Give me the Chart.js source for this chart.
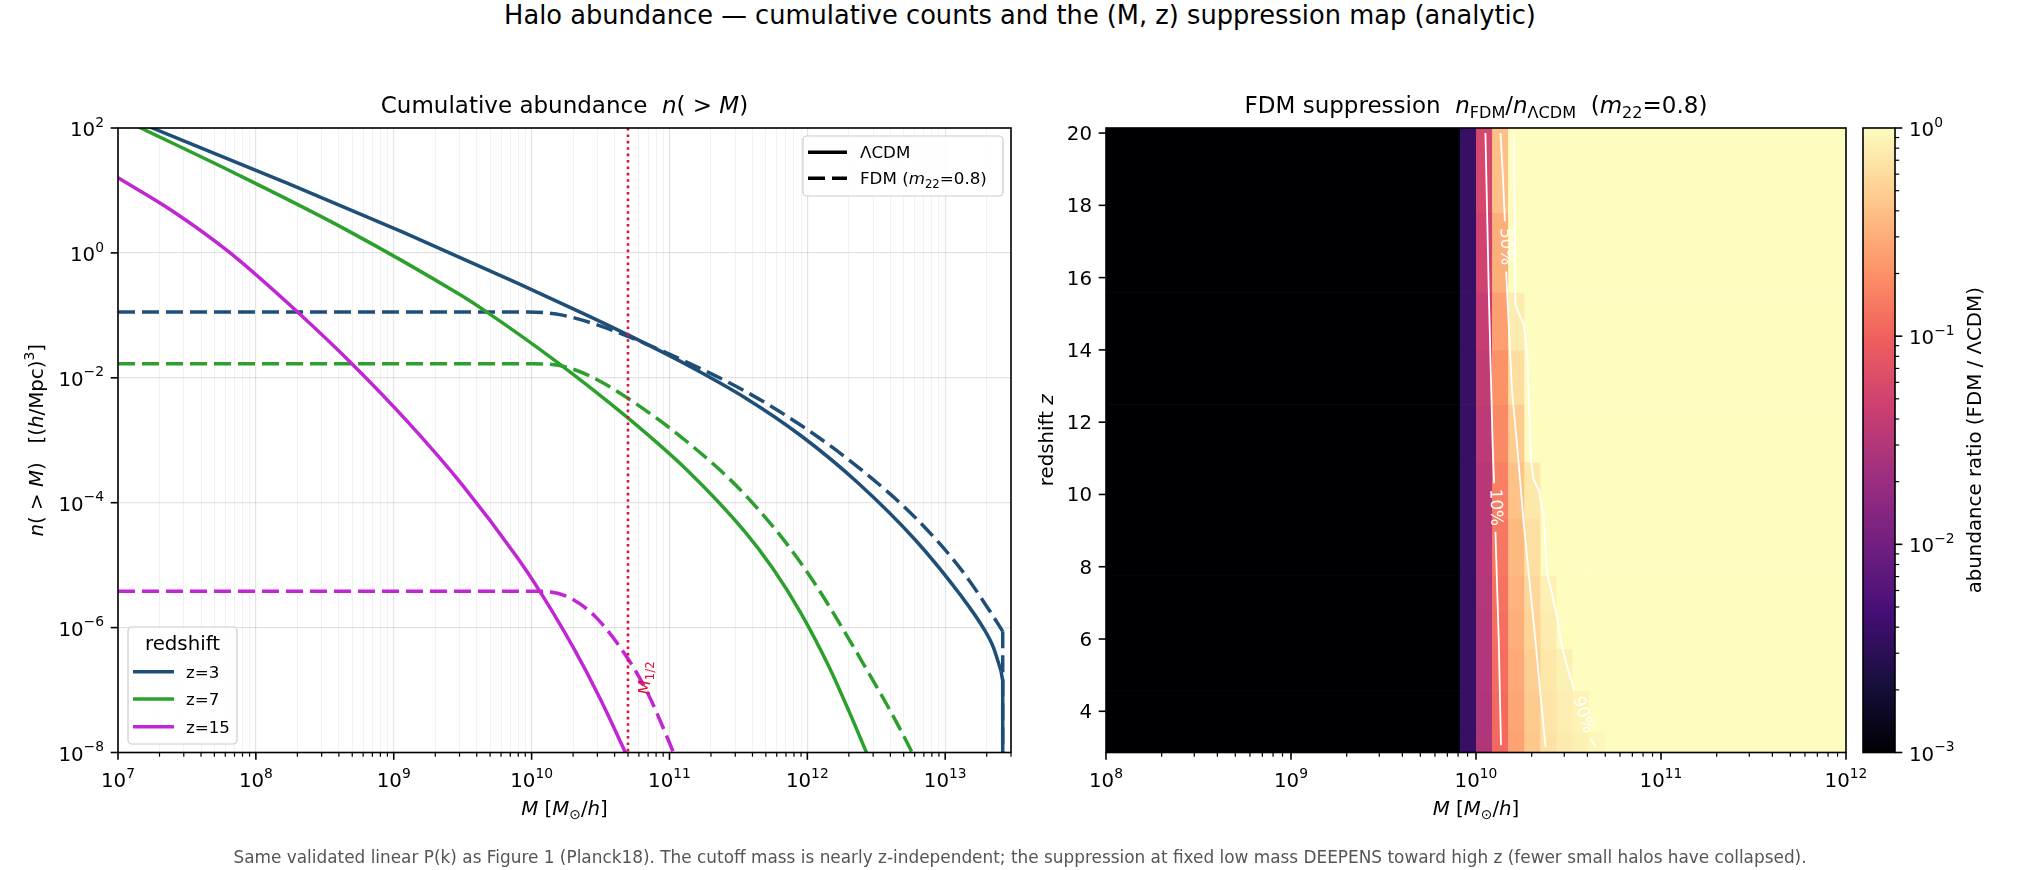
<!DOCTYPE html>
<html lang="en">
<head>
<meta charset="UTF-8">
<title>Halo abundance — cumulative counts and the (M, z) suppression map</title>
<script src="https://cdn.jsdelivr.net/npm/chart.js@4.4.1/dist/chart.umd.min.js"></script>
<style>
    body { margin: 0; background: #fff; }
    #page { position: relative; width: 2040px; height: 870px; font-family: "DejaVu Sans", sans-serif; color: #000; }
    canvas { position: absolute; left: 0; top: 0; }
    #suptitle { position: absolute; left: 0; top: 0; width: 2040px; text-align: center; font-size: 25.7px; line-height: 30px; }
    #footnote { position: absolute; left: 0; top: 847px; width: 2040px; text-align: center; font-size: 16.9px; line-height: 20px; color: #555; }
</style>
</head>
<body>
<div id="page">
    <div id="suptitle">Halo abundance — cumulative counts and the (M, z) suppression map (analytic)</div>
    <canvas id="cLeft" width="2040" height="870"></canvas>
    <canvas id="cRight" width="2040" height="870"></canvas>
    <canvas id="cBar" width="2040" height="870"></canvas>
    <div id="footnote">Same validated linear P(k) as Figure 1 (Planck18). The cutoff mass is nearly z-independent; the suppression at fixed low mass DEEPENS toward high z (fewer small halos have collapsed).</div>
</div>

<script>
// ---- data (log10 values) ----
const cdmZ3LogM = [7.0, 7.248, 8.24, 9.066, 9.893, 10.388, 10.694, 11.132, 11.545, 11.959, 12.372, 12.785, 13.116, 13.281, 13.35, 13.405];
const cdmZ3LogN = [2.223, 2.0, 1.107, 0.331, -0.479, -0.984, -1.308, -1.799, -2.315, -2.936, -3.692, -4.601, -5.495, -6.023, -6.32, -6.70];
const fdmZ3LogM = [7.0, 9.975, 10.223, 10.43, 10.694, 11.132, 11.545, 11.959, 12.372, 12.785, 13.116, 13.322, 13.417];
const fdmZ3LogN = [-0.946, -0.946, -0.996, -1.12, -1.331, -1.756, -2.21, -2.769, -3.438, -4.243, -5.071, -5.73, -6.06];
// the z=3 curves fall vertically at the upper end of the mass range
const cdmZ3DropLogM = [13.405, 13.417, 13.417];
const cdmZ3DropLogN = [-6.70, -6.85, -9.0];
const fdmZ3DropLogM = [13.417, 13.417];
const fdmZ3DropLogN = [-6.06, -9.0];

const cdmZ7LogM = [7.0, 7.165, 7.826, 8.653, 9.479, 9.665, 10.182, 10.694, 11.132, 11.545, 11.75, 11.95, 12.15, 12.3, 12.434, 12.5];
const cdmZ7LogN = [2.175, 2.0, 1.299, 0.373, -0.668, -0.932, -1.744, -2.635, -3.489, -4.46, -5.055, -5.755, -6.595, -7.33, -8.027, -8.37];
const fdmZ7LogM = [7.0, 10.017, 10.223, 10.43, 10.694, 11.132, 11.545, 11.959, 12.372, 12.764, 12.8];
const fdmZ7LogN = [-1.776, -1.776, -1.813, -1.979, -2.322, -3.032, -3.866, -4.984, -6.45, -8.02, -8.2];

const cdmZ15LogM = [7.0, 7.4, 7.8, 8.3, 8.7, 9.1, 9.5, 9.9, 10.06, 10.3, 10.5, 10.68, 10.72];
const cdmZ15LogN = [1.203, 0.663, 0.023, -0.942, -1.782, -2.702, -3.722, -4.89, -5.42, -6.31, -7.15, -8.0, -8.2];
const fdmZ15LogM = [7.0, 10.0, 10.14, 10.306, 10.471, 10.694, 10.843, 11.029, 11.06];
const fdmZ15LogN = [-5.417, -5.417, -5.43, -5.557, -5.844, -6.482, -7.056, -8.0, -8.17];

const mHalf = 5e10;

// suppression map: cell edges and ratio per cell (rows = z, bottom to top)
const zEdges = [2.86, 3.43, 4.58, 5.74, 6.76, 7.77, 9.33, 10.9, 12.5, 14.0, 15.6, 17.8, 20.14];
const logMEdges = [8.0, 9.913, 10.0, 10.087, 10.174, 10.261, 10.348, 10.435, 10.522, 10.609, 10.696, 12.0];
const ratioGrid = [
    [0.001, 0.0037, 0.029, 0.112, 0.26, 0.45, 0.67, 0.76, 0.83, 0.90, 1],
    [0.001, 0.0037, 0.029, 0.115, 0.27, 0.47, 0.69, 0.79, 0.86, 1, 1],
    [0.001, 0.0037, 0.030, 0.120, 0.29, 0.50, 0.73, 0.84, 1, 1, 1],
    [0.001, 0.0037, 0.030, 0.124, 0.31, 0.54, 0.77, 1, 1, 1, 1],
    [0.001, 0.0037, 0.031, 0.128, 0.33, 0.57, 0.82, 1, 1, 1, 1],
    [0.001, 0.0037, 0.032, 0.138, 0.36, 0.64, 1, 1, 1, 1, 1],
    [0.001, 0.0037, 0.033, 0.155, 0.41, 0.73, 1, 1, 1, 1, 1],
    [0.001, 0.0037, 0.035, 0.180, 0.48, 1, 1, 1, 1, 1, 1],
    [0.001, 0.0037, 0.039, 0.205, 0.62, 1, 1, 1, 1, 1, 1],
    [0.001, 0.0037, 0.043, 0.245, 0.78, 1, 1, 1, 1, 1, 1],
    [0.001, 0.0037, 0.049, 0.310, 1, 1, 1, 1, 1, 1, 1],
    [0.001, 0.0037, 0.055, 0.400, 1, 1, 1, 1, 1, 1, 1]
];

// contour lines (null = gap for the inline label)
const c10LogM = [10.051, 10.069, 10.090, 10.098, null, 10.105, 10.123, 10.135];
const c10Z = [20.0, 15.62, 11.37, 10.31, null, 8.97, 5.97, 3.06];
const c50LogM = [10.132, 10.145, 10.156, null, 10.163, 10.177, 10.195, 10.222, 10.258, 10.294, 10.321, 10.348, 10.376];
const c50Z = [20.0, 18.85, 17.56, null, 16.17, 14.69, 12.85, 11.37, 9.2, 7.35, 5.97, 4.49, 3.01];
const c90LogM = [10.204, 10.21, 10.213, 10.231, 10.258, 10.276, 10.285, 10.294, 10.297, 10.312, 10.339, 10.366, 10.384, 10.411, 10.438, 10.465, 10.493, 10.532, null, 10.619, 10.646];
const c90Z = [20.0, 17.46, 15.25, 15.02, 14.69, 13.95, 12.85, 11.37, 10.95, 10.4, 10.12, 9.38, 7.81, 7.26, 6.61, 5.78, 5.23, 4.58, null, 3.24, 3.01];
const contourLabels = [
    { text: '10%', logM: 10.104, z: 9.64, angle: 88 },
    { text: '50%', logM: 10.160, z: 16.86, angle: 88 },
    { text: '90%', logM: 10.577, z: 3.9, angle: 72 }
];

// ticks
const leftXMajor = [1e7, 1e8, 1e9, 1e10, 1e11, 1e12, 1e13];
const leftYMajor = [1e2, 1e0, 1e-2, 1e-4, 1e-6, 1e-8];
const rightXMajor = [1e8, 1e9, 1e10, 1e11, 1e12];
const rightYTicks = [4, 6, 8, 10, 12, 14, 16, 18, 20];
const cbMajor = [1e-3, 1e-2, 1e-1, 1e0];
const cbRange = [1e-3, 1];

// ---- layout ----
const W = 2040, H = 870;
const leftArea = { left: 118, top: 128, right: 1011, bottom: 752.5 };
const rightArea = { left: 1106, top: 128, right: 1846, bottom: 752.5 };
const cbArea = { left: 1863, top: 128, right: 1895, bottom: 752.5 };

const FONT = '"DejaVu Sans", sans-serif';
const C3 = '#1f4e79', C7 = '#2ca02c', C15 = '#c026d3', RED = '#dc143c';
const magmaHex = ['#000004', '#180f3d', '#440f76', '#721f81', '#9e2f7f', '#cd4071', '#f1605d', '#fd9668', '#feca8d', '#fcfdbf'];

function areaLayout(a) {
    return { padding: { left: a.left, top: a.top, right: W - a.right, bottom: H - a.bottom } };
}
function zeroFit(s) { if (s.isHorizontal()) s.height = 0; else s.width = 0; }
function isPow10(v) { const l = Math.log10(v); return Math.abs(l - Math.round(l)) < 1e-9; }
function minorLog(majors, maxV) {
    const out = [];
    majors.forEach(d => { for (let m = 1; m <= 9; m++) { const v = m * d; if (v <= maxV * 1.0001) out.push(v); } });
    return out;
}

function hexRgb(h) { return [1, 3, 5].map(i => parseInt(h.substr(i, 2), 16)); }
const magmaRgb = magmaHex.map(hexRgb);
function magma(t) {
    t = Math.max(0, Math.min(1, t));
    const f = t * (magmaRgb.length - 1);
    const i = Math.min(magmaRgb.length - 2, Math.floor(f));
    const u = f - i;
    const c = magmaRgb[i].map((v, k) => Math.round(v + (magmaRgb[i + 1][k] - v) * u));
    return 'rgb(' + c.join(',') + ')';
}
function ratioColor(v) { return magma((Math.log10(Math.max(v, 1e-3)) + 3) / 3); }

// ---- text helpers (mathtext-like runs) ----
function partFont(p, size) {
    const s = (p.sub || p.sup) ? size * 0.7 : size;
    return (p.it ? 'italic ' : '') + s.toFixed(2) + 'px ' + FONT;
}
function drawRich(ctx, parts, x, y, size, opts = {}) {
    ctx.save();
    ctx.translate(x, y);
    if (opts.rotate) ctx.rotate(opts.rotate);
    ctx.fillStyle = opts.color || '#000';
    ctx.textAlign = 'left';
    ctx.textBaseline = 'alphabetic';
    let w = 0;
    parts.forEach(p => { ctx.font = partFont(p, size); w += ctx.measureText(p.t).width; });
    let cx = opts.align === 'center' ? -w / 2 : opts.align === 'right' ? -w : 0;
    parts.forEach(p => {
        ctx.font = partFont(p, size);
        const dy = p.sub ? size * 0.22 : p.sup ? -size * 0.47 : 0;
        ctx.fillText(p.t, cx, dy);
        cx += ctx.measureText(p.t).width;
    });
    ctx.restore();
}
function pow10Parts(v) {
    const e = Math.round(Math.log10(v));
    return [{ t: '10' }, { t: e < 0 ? '\u2212' + (-e) : String(e), sup: true }];
}
function frame(ctx, a) {
    ctx.save();
    ctx.strokeStyle = '#000';
    ctx.lineWidth = 1.6;
    ctx.strokeRect(a.left, a.top, a.right - a.left, a.bottom - a.top);
    ctx.restore();
}
function tick(ctx, x0, y0, x1, y1, w) {
    ctx.save();
    ctx.strokeStyle = '#000';
    ctx.lineWidth = w;
    ctx.beginPath(); ctx.moveTo(x0, y0); ctx.lineTo(x1, y1); ctx.stroke();
    ctx.restore();
}
function legendBox(ctx, x, y, w, h) {
    ctx.save();
    ctx.beginPath();
    ctx.roundRect(x, y, w, h, 4);
    ctx.fillStyle = 'rgba(255,255,255,0.8)';
    ctx.fill();
    ctx.strokeStyle = '#cccccc';
    ctx.lineWidth = 1.2;
    ctx.stroke();
    ctx.restore();
}
function legendLine(ctx, x0, x1, y, color, dash) {
    ctx.save();
    ctx.strokeStyle = color;
    ctx.lineWidth = 3.5;
    ctx.setLineDash(dash || []);
    ctx.beginPath(); ctx.moveTo(x0, y); ctx.lineTo(x1, y); ctx.stroke();
    ctx.restore();
}

const TICK = 19.8, LABEL = 19.8, TITLE = 23, SMALL = 16.7;
const massLabel = [{ t: 'M', it: true }, { t: ' [' }, { t: 'M', it: true }, { t: '\u2299', sub: true }, { t: '/' }, { t: 'h', it: true }, { t: ']' }];

Chart.defaults.font.family = FONT;

// ---- left: cumulative abundance ----
function pts(logM, logN) { return logM.map((m, i) => ({ x: Math.pow(10, m), y: Math.pow(10, logN[i]) })); }
function curve(logM, logN, color, dashed, order, straight) {
    const ds = {
        data: pts(logM, logN), borderColor: color, borderWidth: 3.5, borderDash: dashed ? [17, 7] : [],
        showLine: true, pointRadius: 0, pointHoverRadius: 0, clip: 0, fill: false, order: order
    };
    if (straight) ds.tension = 0; else ds.cubicInterpolationMode = 'monotone';
    return ds;
}

const leftXGrid = minorLog(leftXMajor, 3e13);

const leftDecor = {
    id: 'leftDecor',
    afterDraw(chart) {
        const { ctx, chartArea: a, scales: { x, y } } = chart;
        frame(ctx, a);
        leftXGrid.forEach(v => {
            const px = x.getPixelForValue(v);
            tick(ctx, px, a.bottom, px, a.bottom + (isPow10(v) ? 7.3 : 4.2), isPow10(v) ? 1.6 : 1.2);
        });
        leftXMajor.forEach(v => drawRich(ctx, pow10Parts(v), x.getPixelForValue(v), 787, TICK, { align: 'center' }));
        leftYMajor.forEach(v => {
            const py = y.getPixelForValue(v);
            tick(ctx, a.left, py, a.left - 7.3, py, 1.6);
            drawRich(ctx, pow10Parts(v), 104, py + 8, TICK, { align: 'right' });
        });

        drawRich(ctx, [{ t: 'Cumulative abundance  ' }, { t: 'n', it: true }, { t: '( > ' }, { t: 'M', it: true }, { t: ')' }],
            (a.left + a.right) / 2, 113, TITLE, { align: 'center' });
        drawRich(ctx, massLabel, (a.left + a.right) / 2, 815, LABEL, { align: 'center' });
        drawRich(ctx, [{ t: 'n', it: true }, { t: '( > ' }, { t: 'M', it: true }, { t: ')   [(' }, { t: 'h', it: true },
            { t: '/Mpc)' }, { t: '3', sup: true }, { t: ']' }], 43, (a.top + a.bottom) / 2, LABEL, { align: 'center', rotate: -Math.PI / 2 });

        // M_1/2 marker label
        drawRich(ctx, [{ t: 'M', it: true }, { t: '1/2', sub: true }], 650, 678, SMALL, { align: 'center', rotate: -Math.PI / 2, color: RED });

        // model legend
        legendBox(ctx, 803, 136, 200, 60);
        legendLine(ctx, 808, 847, 152.3, '#000');
        drawRich(ctx, [{ t: '\u039BCDM' }], 860, 158, SMALL);
        legendLine(ctx, 808, 847, 178.3, '#000', [17, 7]);
        drawRich(ctx, [{ t: 'FDM (' }, { t: 'm', it: true }, { t: '22', sub: true }, { t: '=0.8)' }], 860, 184, SMALL);

        // redshift legend
        legendBox(ctx, 128, 627, 109, 117);
        drawRich(ctx, [{ t: 'redshift' }], 182.5, 650, LABEL, { align: 'center' });
        [[671.7, C3, 'z=3'], [699, C7, 'z=7'], [726.7, C15, 'z=15']].forEach(([ly, col, txt]) => {
            legendLine(ctx, 133, 174, ly, col);
            drawRich(ctx, [{ t: txt }], 186, ly + 6, SMALL);
        });
    }
};

new Chart(document.getElementById('cLeft'), {
    type: 'scatter',
    data: {
        datasets: [
            {
                data: [{ x: mHalf, y: 1e2 }, { x: mHalf, y: 1e-8 }], borderColor: RED, borderWidth: 2.6,
                borderDash: [2.6, 3.8], showLine: true, pointRadius: 0, pointHoverRadius: 0, clip: 0, order: 0
            },
            curve(fdmZ15LogM, fdmZ15LogN, C15, true, 1),
            curve(cdmZ15LogM, cdmZ15LogN, C15, false, 2),
            curve(fdmZ7LogM, fdmZ7LogN, C7, true, 3),
            curve(cdmZ7LogM, cdmZ7LogN, C7, false, 4),
            curve(fdmZ3LogM, fdmZ3LogN, C3, true, 5),
            curve(fdmZ3DropLogM, fdmZ3DropLogN, C3, true, 5, true),
            curve(cdmZ3LogM, cdmZ3LogN, C3, false, 6),
            curve(cdmZ3DropLogM, cdmZ3DropLogN, C3, false, 6, true)
        ]
    },
    options: {
        responsive: false,
        animation: false,
        events: [],
        layout: areaLayout(leftArea),
        plugins: { legend: { display: false }, tooltip: { enabled: false } },
        scales: {
            x: {
                type: 'logarithmic', min: 1e7, max: 3e13,
                ticks: { display: false }, border: { display: false }, afterFit: zeroFit,
                afterBuildTicks: s => { s.ticks = leftXGrid.map(v => ({ value: v, major: isPow10(v) })); },
                grid: {
                    drawTicks: false,
                    color: c => (c.tick && c.tick.major) ? 'rgba(0,0,0,0.11)' : 'rgba(0,0,0,0.06)',
                    lineWidth: c => (c.tick && c.tick.major) ? 1.2 : 0.9
                }
            },
            y: {
                type: 'logarithmic', min: 1e-8, max: 1e2,
                ticks: { display: false }, border: { display: false }, afterFit: zeroFit,
                afterBuildTicks: s => { s.ticks = leftYMajor.map(v => ({ value: v, major: true })); },
                grid: { drawTicks: false, color: 'rgba(0,0,0,0.11)', lineWidth: 1.2 }
            }
        }
    },
    plugins: [leftDecor]
});

// ---- right: suppression map ----
function cpts(logM, z) { return logM.map((m, i) => ({ x: m === null ? null : Math.pow(10, m), y: z[i] })); }
function contour(logM, z) {
    return { data: cpts(logM, z), borderColor: '#ffffff', borderWidth: 1.8, showLine: true, pointRadius: 0, pointHoverRadius: 0, tension: 0, clip: 0 };
}
const rightXMinor = minorLog(rightXMajor.slice(0, 4), 1e12);

const heatmap = {
    id: 'heatmap',
    beforeDatasetsDraw(chart) {
        const { ctx, chartArea: a, scales: { x, y } } = chart;
        ctx.save();
        ctx.beginPath(); ctx.rect(a.left, a.top, a.right - a.left, a.bottom - a.top); ctx.clip();
        ratioGrid.forEach((row, r) => {
            const yb = y.getPixelForValue(zEdges[r]);
            const yt = y.getPixelForValue(zEdges[r + 1]);
            row.forEach((v, c) => {
                const xl = x.getPixelForValue(Math.pow(10, logMEdges[c]));
                const xr = x.getPixelForValue(Math.pow(10, logMEdges[c + 1]));
                ctx.fillStyle = ratioColor(v);
                ctx.fillRect(xl, yt, xr - xl + 0.6, yb - yt + 0.6);
            });
        });
        ctx.restore();
    },
    afterDatasetsDraw(chart) {
        const { ctx, scales: { x, y } } = chart;
        contourLabels.forEach(l => {
            ctx.save();
            ctx.translate(x.getPixelForValue(Math.pow(10, l.logM)), y.getPixelForValue(l.z));
            ctx.rotate(l.angle * Math.PI / 180);
            ctx.font = SMALL + 'px ' + FONT;
            ctx.fillStyle = '#ffffff';
            ctx.textAlign = 'center';
            ctx.textBaseline = 'middle';
            ctx.fillText(l.text, 0, 0);
            ctx.restore();
        });
    },
    afterDraw(chart) {
        const { ctx, chartArea: a, scales: { x, y } } = chart;
        frame(ctx, a);
        rightXMinor.forEach(v => {
            const px = x.getPixelForValue(v);
            tick(ctx, px, a.bottom, px, a.bottom + (isPow10(v) ? 7.3 : 4.2), isPow10(v) ? 1.6 : 1.2);
        });
        const px12 = x.getPixelForValue(1e12);
        tick(ctx, px12, a.bottom, px12, a.bottom + 7.3, 1.6);
        rightXMajor.forEach(v => drawRich(ctx, pow10Parts(v), x.getPixelForValue(v), 787, TICK, { align: 'center' }));
        rightYTicks.forEach(v => {
            const py = y.getPixelForValue(v);
            tick(ctx, a.left, py, a.left - 7.3, py, 1.6);
            drawRich(ctx, [{ t: String(v) }], a.left - 14, py + 7, TICK, { align: 'right' });
        });
        drawRich(ctx, [{ t: 'FDM suppression  ' }, { t: 'n', it: true }, { t: 'FDM', sub: true }, { t: '/' }, { t: 'n', it: true },
            { t: '\u039BCDM', sub: true }, { t: '  (' }, { t: 'm', it: true }, { t: '22', sub: true }, { t: '=0.8)' }],
            (a.left + a.right) / 2, 113, TITLE, { align: 'center' });
        drawRich(ctx, massLabel, (a.left + a.right) / 2, 815, LABEL, { align: 'center' });
        drawRich(ctx, [{ t: 'redshift ' }, { t: 'z', it: true }], 1053, (a.top + a.bottom) / 2, LABEL, { align: 'center', rotate: -Math.PI / 2 });
    }
};

new Chart(document.getElementById('cRight'), {
    type: 'scatter',
    data: { datasets: [contour(c10LogM, c10Z), contour(c50LogM, c50Z), contour(c90LogM, c90Z)] },
    options: {
        responsive: false,
        animation: false,
        events: [],
        layout: areaLayout(rightArea),
        plugins: { legend: { display: false }, tooltip: { enabled: false } },
        scales: {
            x: { type: 'logarithmic', min: 1e8, max: 1e12, ticks: { display: false }, grid: { display: false }, border: { display: false }, afterFit: zeroFit },
            y: { type: 'linear', min: zEdges[0], max: zEdges[zEdges.length - 1], ticks: { display: false }, grid: { display: false }, border: { display: false }, afterFit: zeroFit }
        }
    },
    plugins: [heatmap]
});

// ---- colorbar ----
const cbMinor = minorLog(cbMajor.slice(0, 3), 1);
const cbDecor = {
    id: 'cbDecor',
    afterDraw(chart) {
        const { ctx, chartArea: a, scales: { y } } = chart;
        frame(ctx, a);
        cbMinor.forEach(v => {
            const py = y.getPixelForValue(v);
            tick(ctx, a.right, py, a.right + (isPow10(v) ? 7.3 : 4.2), py, isPow10(v) ? 1.6 : 1.2);
        });
        const p0 = y.getPixelForValue(1);
        tick(ctx, a.right, p0, a.right + 7.3, p0, 1.6);
        cbMajor.forEach(v => drawRich(ctx, pow10Parts(v), a.right + 14, y.getPixelForValue(v) + 8, TICK));
        drawRich(ctx, [{ t: 'abundance ratio (FDM / \u039BCDM)' }], 1981, (a.top + a.bottom) / 2, LABEL, { align: 'center', rotate: -Math.PI / 2 });
    }
};

new Chart(document.getElementById('cBar'), {
    type: 'bar',
    data: {
        labels: ['ratio'],
        datasets: [{
            data: [cbRange],
            borderWidth: 0,
            barPercentage: 1,
            categoryPercentage: 1,
            backgroundColor: c => {
                const area = c.chart.chartArea;
                if (!area) return magmaHex[5];
                const g = c.chart.ctx.createLinearGradient(0, area.bottom, 0, area.top);
                magmaHex.forEach((h, i) => g.addColorStop(i / (magmaHex.length - 1), h));
                return g;
            }
        }]
    },
    options: {
        responsive: false,
        animation: false,
        events: [],
        layout: areaLayout(cbArea),
        plugins: { legend: { display: false }, tooltip: { enabled: false } },
        scales: {
            x: { type: 'category', ticks: { display: false }, grid: { display: false }, border: { display: false }, afterFit: zeroFit },
            y: { type: 'logarithmic', min: cbRange[0], max: cbRange[1], ticks: { display: false }, grid: { display: false }, border: { display: false }, afterFit: zeroFit }
        }
    },
    plugins: [cbDecor]
});
</script>
</body>
</html>
